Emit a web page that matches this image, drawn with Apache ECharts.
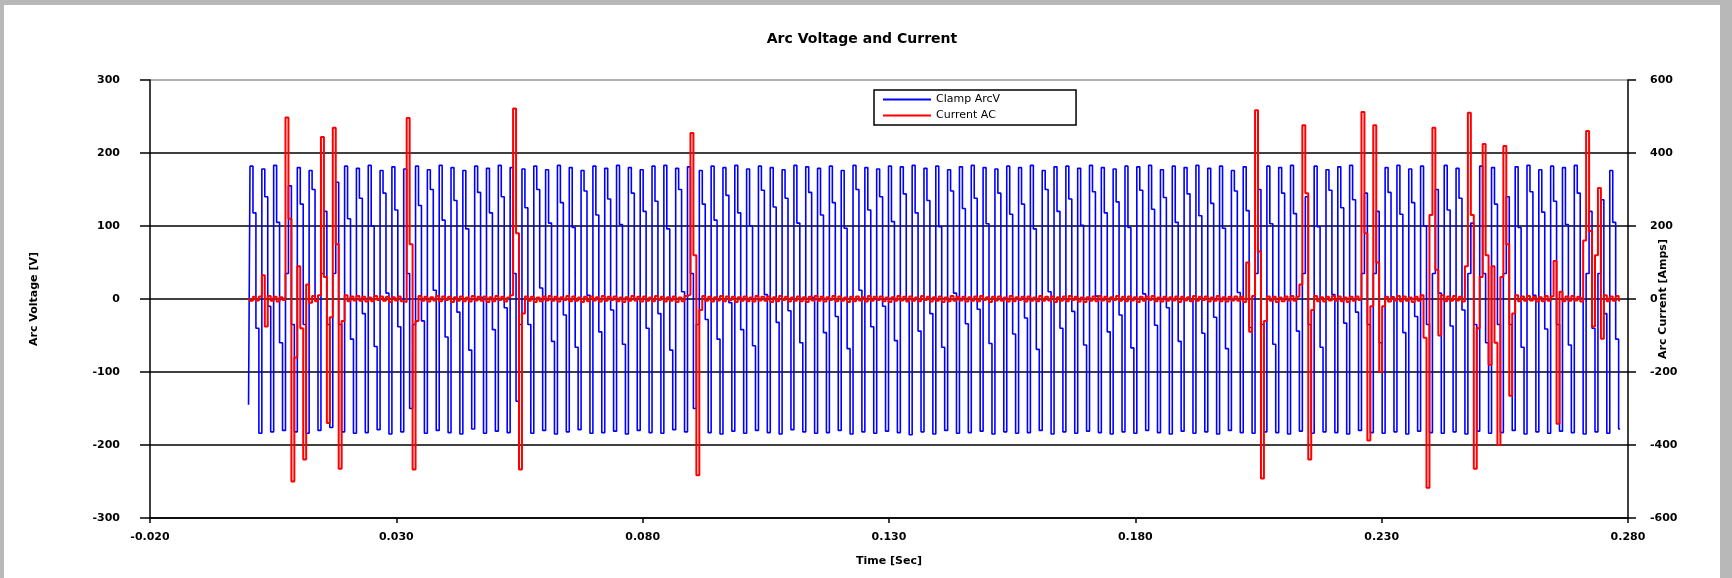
<!DOCTYPE html>
<html>
<head>
<meta charset="utf-8">
<script src="https://cdn.jsdelivr.net/npm/echarts@6/dist/echarts.min.js"></script>
<style>
html,body{margin:0;padding:0;width:1732px;height:578px;overflow:hidden;background:#b8b8b8;}
#chart{position:absolute;left:4px;top:5px;width:1716px;height:573px;background:#ffffff;}
</style>
</head>
<body>
<div id="chart"></div>
<script>
// ---------- data ----------
const chartTitle = 'Arc Voltage and Current';
const seriesNames = ['Clamp ArcV', 'Current AC'];
const xAxisName = 'Time [Sec]';
const leftAxisName = 'Arc Voltage [V]';
const rightAxisName = 'Arc Current [Amps]';

// x ticks (seconds)
const xTicks = [-0.02, 0.03, 0.08, 0.13, 0.18, 0.23, 0.28];
const xTickStep = 0.05;
// left axis ticks (V) and right axis ticks (A)
const voltTicks = [-300, -200, -100, 0, 100, 200, 300];
const currTicks = [-600, -400, -200, 0, 200, 400, 600];

// sampling of the recorded waveforms
const T0 = 0;
const SAMPLE_DT = 0.0006;

// Clamp arc voltage samples (V)
const arcVoltage = [
-145,
182,118,-40,-184, 178,140,-10,-182, 183,105,-60,-180, 35,155,-35,-182, 180,130,-35,-184, 176,150,0,-180, 35,120,-35,-176, 35,160,-35,-182,
182,110,-55,-184, 179,138,-20,-183, 183,100,-65,-179, 176,145,8,-185, 181,122,-38,-182, 178,35,-150,-35, 182,128,-30,-184, 177,150,12,-180,
183,108,-52,-183, 180,135,-18,-185, 176,96,-70,-178, 182,146,2,-184, 179,118,-42,-181, 183,140,-12,-183, 180,35,-140,-35, 178,125,-35,-184,
182,150,15,-180, 177,104,-58,-185, 183,132,-22,-182, 180,98,-66,-179, 176,148,5,-184, 182,115,-45,-183, 179,137,-15,-181, 183,102,-62,-185,
180,145,0,-180, 177,120,-40,-183, 182,134,-20,-184, 183,96,-70,-179, 179,150,10,-182, 181,35,-150,-35, 176,130,-28,-183, 182,108,-55,-185,
180,142,-5,-181, 183,118,-42,-184, 178,100,-64,-180, 182,149,6,-183, 180,126,-32,-185, 177,138,-16,-179, 183,104,-60,-182, 181,146,2,-184,
179,115,-46,-183, 182,132,-24,-180, 176,97,-68,-185, 183,150,12,-182, 180,122,-38,-184, 178,140,-10,-181, 182,106,-57,-183, 181,144,-2,-186,
183,118,-44,-182, 179,135,-20,-185, 182,99,-66,-180, 177,148,8,-184, 181,124,-34,-183, 183,138,-14,-181, 180,103,-61,-185, 178,145,0,-182,
182,116,-48,-184, 180,130,-26,-183, 183,96,-69,-180, 176,150,10,-185, 181,120,-40,-182, 182,137,-17,-184, 179,101,-63,-181, 183,147,4,-183,
180,118,-45,-185, 178,133,-22,-182, 182,98,-67,-184, 181,149,7,-180, 183,123,-36,-183, 177,139,-12,-185, 182,105,-58,-181, 180,144,-3,-184,
183,114,-47,-182, 179,131,-25,-185, 182,97,-68,-180, 176,148,9,-183, 181,121,-39,-184, 35,150,-35,-182, 182,103,-62,-183, 180,145,0,-185,
183,117,-44,-181, 35,140,-35,-184, 182,99,-66,-182, 177,149,6,-183, 181,125,-33,-185, 183,136,-18,-180, 35,145,-35,-183, 35,120,-60,-184,
180,146,3,-182, 183,116,-46,-185, 178,132,-24,-181, 182,100,-35,-183, 35,150,8,-184, 183,122,-37,-182, 179,138,-15,-185, 35,104,-35,-181,
182,35,-60,-184, 180,130,-35,-183, 35,140,-35,-180, 181,98,-66,-185, 183,147,5,-182, 177,119,-41,-184, 182,134,-35,-181, 180,102,-63,-183,
183,145,1,-185, 35,120,-40,-182, 35,136,-20,-184, 176,105,-55,-178
];

// AC arc current samples (A)
const arcCurrent = [
2,-5,6,-4,7,65,-75,8,-5,6,-7,5,-3,
497,220,-500,-160,90,-80,-440,40,-10,8,-6,10,
444,60,-340,-50,469,150,-465,-60,10,
-6,7,-4,8,-5,6,-7,4,-6,8, -3,7,-5,6,-8,5,-4,7,-6,-8,
496,150,-467,-60,
8,-5,6,-7,5,-4,8,-6, 7,-3,6,-8,5,-5,7,-6, 4,-7,8,-4,6,-5,7,-8, 5,-6,8,-3,6,-7,4,10,
522,180,-467,-40,
7,-5,6,-8,4,-6,7,-4, 8,-5,6,-7,5,-3,8,-6, 7,-5,4,-8,6,-6,7,-4, 5,-7,8,-5,6,-3,7,-6, 4,-8,5,-5,8,-4,6,-7, 7,-5,4,-6,8,-3,6,-7, 5,-5,7,-8,4,-6,8,12,
455,120,-483,-30,
8,-5,6,-7,5,-4,8,-6,
7,-3,6,-8,5,-5,7,-6,
4,-7,8,-4,6,-5,7,-8,
5,-6,8,-3,6,-7,4,-5,
7,-6,5,-8,6,-4,8,-5,
6,-7,5,-3,8,-6,7,-5,
4,-8,6,-6,7,-4,5,-7,
8,-5,6,-3,7,-6,4,-8,
5,-5,8,-4,6,-7,7,-5,
4,-6,8,-3,6,-7,5,-5,
7,-8,4,-6,8,-5,6,-4,
6,-7,5,-5,7,-6,8,-3,
5,-8,6,-4,7,-5,4,-7,
8,-6,5,-3,6,-7,7,-5,
4,-6,8,-5,6,-4,7,-8,
5,-5,7,-6,8,-3,6,-7,
4,-8,5,-5,7,-6,8,-4,
6,-7,5,-3,8,-5,6,-6,
7,-4,5,-8,6,-5,7,-3,
8,-6,4,-7,6,-5,5,-4,
7,-8,6,-4,5,-6,8,-5,
6,-3,7,-7,4,-5,8,-6,
5,-7,6,-4,7,-5,6,-8,
100,-90,8,
517,130,-492,-60,
7,-5,6,-8,4,-6,7,-4,8,-5,6,
40,476,290,-440,-30,
8,-6,5,-7,6,-4,8,-5, 7,-6,4,-8,6,-5,7,-3,
512,180,-388,-20,476,100,-200,-20,
6,-7,5,-4,8,-6,7,-5,4,-8,6,-5,
10,-106,-517,230,469,80,-100,10,
-6,7,-5,8,-4,6,-7,90,
510,230,-465,-80,60,425,120,-180,90,-120,-400,60,419,150,-265,-40,10,
-6,7,-5,8,-4,6,-7,5,-6,8,-5,7,
104,-342,20,
-6,7,-5,8,-4,6,-7,
160,460,186,-75,120,304,-109,10,
-6,7,-5,8,-4
];

// ---------- chart ----------
const voltData = arcVoltage.map((v, i) => [T0 + i * SAMPLE_DT, v]);
const currData = arcCurrent.map((v, i) => [T0 + i * SAMPLE_DT, v]);

const FONT = 'DejaVu Sans';
const tickFont = { fontFamily: FONT, fontWeight: 'bold', fontSize: 11, color: '#000' };
const nameFont = { fontFamily: FONT, fontWeight: 'bold', fontSize: 11, color: '#000' };

const chart = echarts.init(document.getElementById('chart'), null, { renderer: 'canvas' });
chart.setOption({
  animation: false,
  backgroundColor: '#ffffff',
  title: {
    text: chartTitle,
    left: 'center',
    top: 22,
    textStyle: { fontFamily: FONT, fontWeight: 'bold', fontSize: 14, color: '#000' }
  },
  legend: {
    orient: 'vertical',
    left: 870,
    top: 85,
    padding: [4, 76, 4, 9],
    itemGap: 5,
    itemWidth: 48,
    itemHeight: 2,
    icon: 'rect',
    borderColor: '#000',
    borderWidth: 1.5,
    backgroundColor: '#fff',
    textStyle: { fontFamily: FONT, fontSize: 11, color: '#000' },
    data: seriesNames
  },
  grid: { left: 146, top: 75, width: 1478, height: 438 },
  xAxis: {
    type: 'value',
    min: xTicks[0],
    max: xTicks[xTicks.length - 1],
    interval: xTickStep,
    name: xAxisName,
    nameLocation: 'middle',
    nameGap: 38,
    nameMoveOverlap: false,
    nameTextStyle: nameFont,
    axisLine: { onZero: false, lineStyle: { color: '#000', width: 1.5 } },
    axisTick: { show: true, length: 5, lineStyle: { color: '#000', width: 1.5 } },
    axisLabel: Object.assign({ margin: 14, formatter: v => v.toFixed(3) }, tickFont),
    splitLine: { show: false }
  },
  yAxis: [
    {
      type: 'value',
      position: 'left',
      min: voltTicks[0],
      max: voltTicks[voltTicks.length - 1],
      interval: voltTicks[1] - voltTicks[0],
      name: leftAxisName,
      nameLocation: 'middle',
      nameRotate: 90,
      nameGap: 110,
      nameMoveOverlap: false,
      nameTextStyle: nameFont,
      axisLine: { show: true, onZero: false, lineStyle: { color: '#000', width: 1.5 } },
      axisTick: { show: true, length: 10, lineStyle: { color: '#000', width: 1.5 } },
      axisLabel: Object.assign({ margin: 30, formatter: v => String(v) }, tickFont),
      splitLine: {
        show: true,
        lineStyle: { color: ['#000', '#000', '#000', '#000', '#000', '#000', '#999'], width: 1.5 }
      }
    },
    {
      type: 'value',
      position: 'right',
      min: currTicks[0],
      max: currTicks[currTicks.length - 1],
      interval: currTicks[1] - currTicks[0],
      name: rightAxisName,
      nameLocation: 'middle',
      nameRotate: 90,
      nameGap: 30,
      nameMoveOverlap: false,
      nameTextStyle: nameFont,
      axisLine: { show: true, onZero: false, lineStyle: { color: '#000', width: 1.5 } },
      axisTick: { show: true, length: 8, lineStyle: { color: '#000', width: 1.5 } },
      axisLabel: Object.assign({ margin: 22, formatter: v => String(v) }, tickFont),
      splitLine: { show: false }
    }
  ],
  series: [
    {
      name: seriesNames[0],
      type: 'line',
      yAxisIndex: 0,
      data: voltData,
      step: 'middle',
      symbol: 'none',
      showSymbol: false,
      lineStyle: { color: '#0000ff', width: 1.6 },
      itemStyle: { color: '#0000ff' },
      z: 2
    },
    {
      name: seriesNames[1],
      type: 'line',
      yAxisIndex: 1,
      data: currData,
      step: 'middle',
      symbol: 'none',
      showSymbol: false,
      lineStyle: { color: '#ff0000', width: 2 },
      itemStyle: { color: '#ff0000' },
      z: 3
    }
  ]
});
</script>
</body>
</html>
